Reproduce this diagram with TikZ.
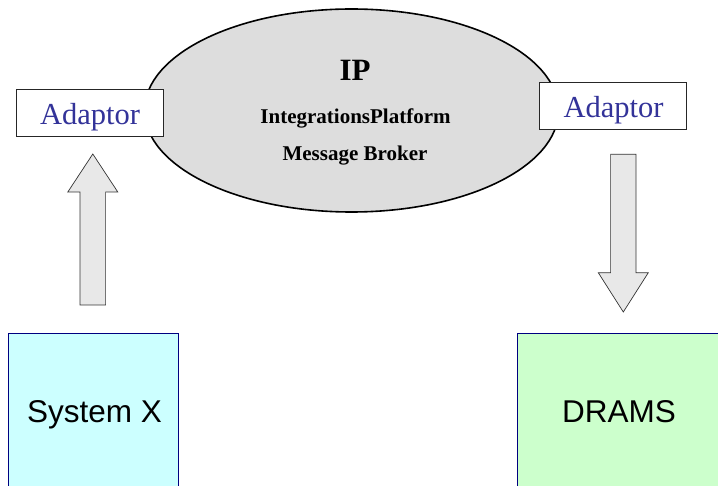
\documentclass[tikz,border=0pt]{standalone}
\usepackage{fontspec}
\setmainfont{Liberation Serif}
\newfontfamily\arialfont{Liberation Sans}
\definecolor{adaptblue}{HTML}{333399}
\definecolor{ipgray}{HTML}{DDDDDD}
\definecolor{arrowgray}{HTML}{E8E8E8}
\definecolor{sysxcyan}{HTML}{CCFFFF}
\definecolor{dramsgreen}{HTML}{CCFFCC}
\definecolor{boxnavy}{HTML}{000080}
\tikzset{
  ipshape/.style={ellipse, draw=black, line width=1.6pt, fill=ipgray,
    minimum width=414pt, minimum height=203pt, inner sep=0pt},
  iptext/.style={anchor=base, inner sep=0pt, font=\bfseries\fontsize{21}{25}\selectfont},
  adaptbox/.style={rectangle, draw=black!85, line width=0.8pt, fill=white,
    minimum width=147pt, minimum height=47pt, inner sep=0pt},
  adapttext/.style={anchor=base, inner sep=0pt, text=adaptblue,
    font=\fontsize{30.5}{36}\selectfont},
  sysbox/.style={rectangle, draw=boxnavy, line width=0.9pt, inner sep=0pt},
  systext/.style={anchor=base, inner sep=0pt, font=\arialfont\fontsize{31.5}{36}\selectfont},
  blockarrow/.style={draw=black!80, line width=0.7pt, fill=arrowgray, line join=miter}
}
\usepackage{tikz}
\usetikzlibrary{shapes.geometric,calc}
\begin{document}
\begin{tikzpicture}[x=1pt,y=-1pt]
\useasboundingbox (0,0) rectangle (718,486);

% central integration platform
\node[ipshape] (ip) at (351.5,110.5) {};
\node[iptext, font=\bfseries\fontsize{31}{36}\selectfont] (iplabel) at (355,81) {IP};
\node[iptext] (ipname) at (355.5,124) {IntegrationsPlatform};
\node[iptext] (ipbroker) at (355,161) {Message Broker};

% adaptors on both sides of the platform
\node[adaptbox] (adL) at (89.5,112.5) {};
\node[adapttext] (adLtext) at (90,125) {Adaptor};
\node[adaptbox] (adR) at (613,106) {};
\node[adapttext] (adRtext) at (613.5,118) {Adaptor};

% connected systems
\node[sysbox, fill=sysxcyan, minimum width=170pt, minimum height=160pt] (sysx) at (93.5,413) {};
\node[systext] (sysxtext) at (94.5,422.5) {System X};
\node[sysbox, fill=dramsgreen, minimum width=205pt, minimum height=160pt] (drams) at (619.5,413) {};
\node[systext] (dramstext) at (619,422.5) {DRAMS};

% block arrow: System X up to its adaptor
\coordinate (upTip) at (92.8,154);
\draw[blockarrow]
  ($(upTip)+(-12.8,151)$) -- ($(upTip)+(-12.8,38)$) -- ($(upTip)+(-25,38)$)
  -- (upTip) -- ($(upTip)+(25,38)$) -- ($(upTip)+(12.8,38)$)
  -- ($(upTip)+(12.8,151)$) -- cycle;

% block arrow: adaptor down to DRAMS
\coordinate (downTip) at (623.3,312);
\draw[blockarrow]
  ($(downTip)+(-12.7,-157.7)$) -- ($(downTip)+(-12.7,-39.3)$) -- ($(downTip)+(-25,-39.3)$)
  -- (downTip) -- ($(downTip)+(25,-39.3)$) -- ($(downTip)+(12.7,-39.3)$)
  -- ($(downTip)+(12.7,-157.7)$) -- cycle;
\end{tikzpicture}
\end{document}
